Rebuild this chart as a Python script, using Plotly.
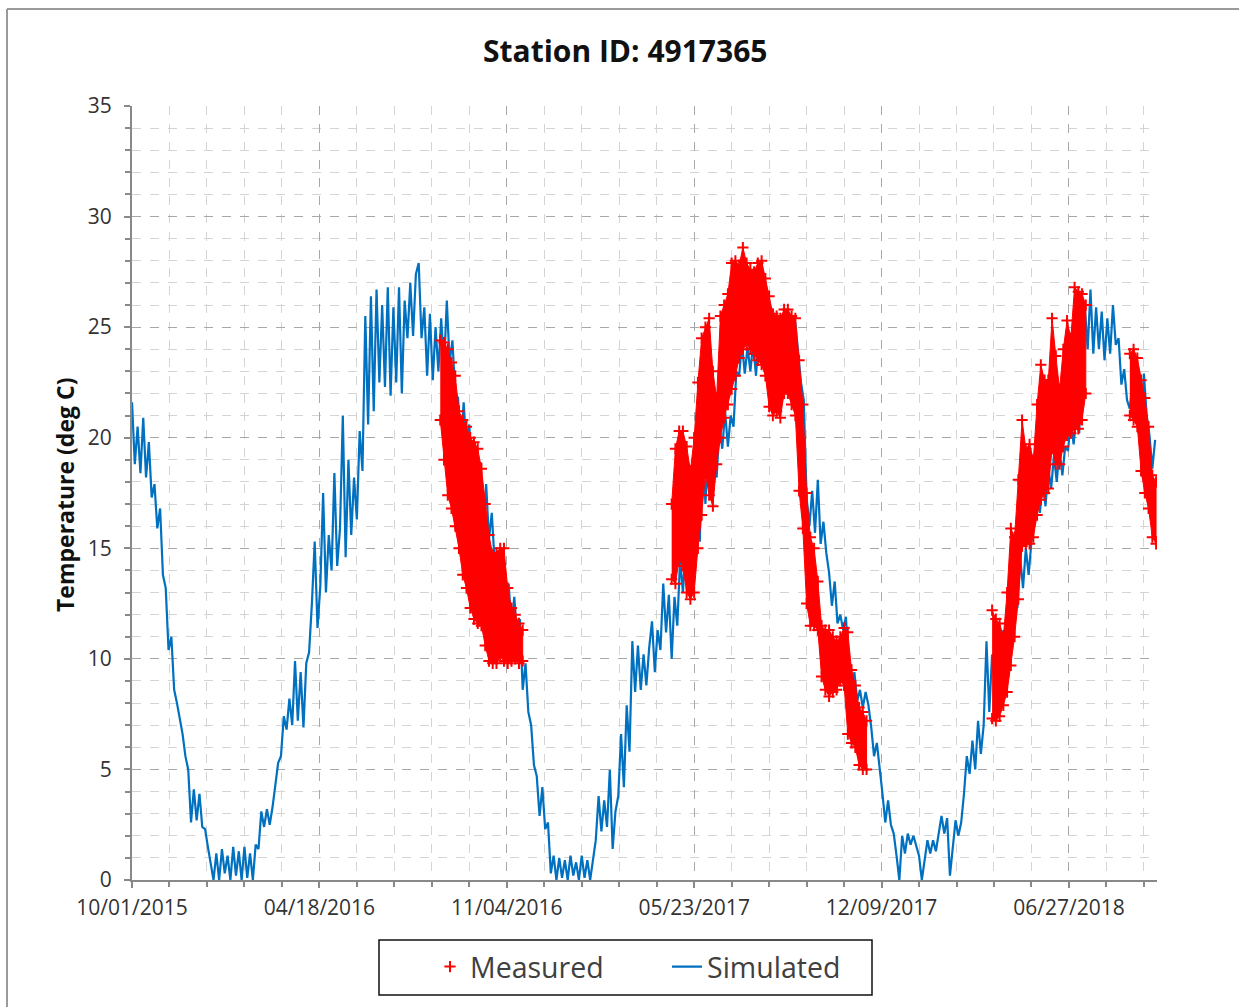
import plotly.graph_objects as go
import pandas as pd

# ---------------- data ----------------
sim_start = "2015-10-01"
sim_step_days = 3
simulated = [
    21.6, 18.8, 20.5, 18.4, 20.9, 18.2, 19.8, 17.3, 17.9, 15.9,
    16.8, 13.8, 13.2, 10.4, 11.0, 8.6, 8.0, 7.3, 6.6, 5.6,
    5.0, 2.6, 4.1, 2.7, 3.9, 2.4, 2.3, 1.5, 0.7, 0.0,
    1.2, 0.0, 1.4, 0.3, 1.1, 0.0, 1.5, 0.2, 1.3, 0.0,
    1.5, 0.1, 1.2, 0.0, 1.6, 1.4, 3.1, 2.4, 3.2, 2.5,
    3.3, 4.4, 5.3, 5.6, 7.4, 6.8, 8.2, 7.0, 9.9, 7.2,
    9.4, 6.9, 9.8, 10.3, 12.5, 15.3, 11.4, 13.3, 17.5, 13.0,
    15.6, 14.0, 18.4, 14.2, 15.9, 21.0, 14.6, 19.0, 15.6, 18.2,
    16.3, 20.3, 18.5, 25.5, 20.6, 26.4, 21.2, 26.7, 22.5, 26.0,
    22.3, 26.8, 21.9, 25.9, 22.5, 26.8, 22.0, 26.2, 24.5, 27.0,
    24.6, 27.4, 27.9, 24.5, 25.9, 22.8, 25.6, 22.6, 25.0, 23.0,
    25.4, 23.2, 26.2, 23.4, 24.4, 22.0, 21.8, 19.6, 21.6, 19.5,
    20.6, 18.0, 19.8, 17.2, 18.9, 16.0, 17.9, 15.4, 16.6, 14.4,
    14.9, 12.7, 14.6, 12.6, 13.4, 11.4, 12.8, 11.0, 11.8, 8.6,
    9.8, 7.6, 7.0, 5.2, 4.7, 2.9, 4.2, 2.3, 2.6, 0.3,
    1.1, 0.0, 1.0, 0.1, 0.9, 0.0, 1.1, 0.2, 0.8, 0.0,
    1.1, 0.1, 0.9, 0.0, 1.0, 1.8, 3.8, 2.2, 3.6, 2.4,
    5.0, 1.4, 3.1, 3.8, 6.6, 4.2, 7.9, 5.8, 10.8, 8.5,
    10.6, 8.6, 10.2, 8.8, 10.5, 11.7, 9.4, 11.3, 10.4, 13.4,
    11.2, 12.9, 10.0, 12.8, 11.5, 14.5, 13.0, 15.2, 13.8, 15.8,
    14.4, 16.1, 15.3, 19.9, 17.0, 19.5, 17.2, 19.0, 18.2, 20.5,
    19.5, 21.2, 19.6, 21.0, 20.5, 23.0, 22.8, 24.3, 22.9, 24.1,
    23.0, 24.3, 22.8, 24.6, 24.0, 25.0, 24.2, 25.2, 25.8, 24.3,
    25.5, 24.0, 25.4, 24.2, 25.5, 24.0, 25.2, 23.8, 22.5, 21.7,
    17.3, 16.0, 17.6, 15.7, 18.1, 15.2, 16.2, 14.8, 13.9, 12.4,
    13.5, 11.6, 12.0, 11.3, 11.9, 9.5, 8.3, 9.4, 8.1, 8.6,
    7.8, 8.5, 7.9, 6.9, 5.6, 6.2, 5.1, 3.9, 2.6, 3.6,
    2.5, 2.1, 1.1, 0.0, 2.0, 1.2, 2.1, 1.6, 2.0, 1.6,
    1.1, 0.0, 1.0, 1.8, 1.2, 1.8, 1.3, 2.2, 2.9, 2.1,
    2.8, 0.2, 1.6, 2.7, 2.0, 2.6, 3.9, 5.6, 4.8, 6.3,
    5.0, 7.2, 5.7, 7.0, 10.8, 7.6, 10.2, 8.8, 11.0, 9.4,
    11.3, 10.3, 12.4, 11.2, 13.6, 12.3, 14.6, 13.2, 15.0, 13.8,
    15.3, 16.1, 17.6, 16.6, 18.0, 16.9, 18.6, 17.7, 19.2, 18.0,
    19.5, 18.3, 19.6, 19.4, 20.8, 19.7, 21.0, 20.2, 23.7, 25.9,
    24.0, 26.7, 23.8, 25.9, 24.0, 25.7, 23.5, 25.4, 23.8, 26.0,
    24.2, 24.5, 22.4, 23.1, 21.7, 21.3, 22.6, 20.7, 22.0, 20.5,
    22.9, 21.0, 20.1, 18.6, 19.9,
]

meas_step_days = 4
# measured: upper / lower envelope of the sub-daily readings, per record period
meas1_start = "2016-08-25"
meas1_hi = [24.4, 24.3, 24.0, 23.4, 22.8, 21.2, 20.8, 20.5, 20.0, 19.8, 19.5, 18.6,
            17.0, 15.6, 14.7, 14.8, 15.0, 15.0, 13.2, 12.3, 12.0, 11.6, 11.3]
meas1_lo = [20.8, 19.0, 17.4, 16.8, 16.0, 15.0, 13.8, 13.2, 12.3, 11.8, 11.6, 11.5,
            10.6, 9.9, 9.8, 9.8, 10.1, 9.9, 9.8, 9.9, 10.0, 9.8, 9.9]

meas2_start = "2017-04-29"
meas2_hi = [17.0, 19.5, 20.3, 20.3, 19.6, 18.5, 20.0, 22.5, 24.5, 25.0, 25.4, 23.0,
            21.8, 25.5, 26.0, 26.5, 27.9, 28.0, 27.8, 28.6, 27.9, 27.6, 27.5, 27.9,
            28.0, 27.2, 26.4, 25.6, 25.5, 25.4, 25.8, 25.8, 25.5, 25.4, 23.5, 21.5,
            17.5, 15.5, 15.0, 13.5, 11.5, 11.3, 11.3, 11.0, 10.8, 11.0, 11.4, 11.2,
            9.5, 8.8, 7.8, 7.6, 7.2]
meas2_lo = [13.6, 13.4, 14.5, 14.2, 13.0, 12.7, 13.0, 15.0, 16.5, 18.4, 17.4, 16.9,
            18.8, 20.0, 20.9, 21.5, 22.2, 22.8, 23.6, 24.0, 24.2, 24.0, 23.8, 23.5,
            23.3, 22.8, 21.4, 21.0, 21.2, 20.9, 22.0, 22.0, 21.5, 21.0, 17.6, 15.9,
            12.5, 11.5, 11.5, 11.3, 9.2, 8.6, 8.3, 8.5, 8.6, 9.0, 8.8, 6.6,
            6.2, 6.0, 5.2, 5.0, 5.0]

meas3_start = "2018-04-06"
meas3_hi = [12.2, 11.8, 11.6, 11.0, 13.0, 15.9, 15.5, 18.1, 20.8, 19.5, 19.7, 19.0,
            21.5, 23.3, 22.6, 22.6, 25.4, 23.7, 22.2, 24.0, 25.3, 24.5, 26.8, 26.6,
            26.5, 26.0]
meas3_lo = [7.3, 7.2, 7.4, 7.9, 8.5, 9.7, 11.0, 12.7, 15.1, 15.2, 15.2, 15.5,
            16.5, 17.2, 17.5, 17.7, 19.5, 18.8, 18.8, 19.6, 20.1, 20.2, 20.4, 20.4,
            20.8, 22.0]

meas4_start = "2018-08-31"
meas4_hi = [23.8, 24.0, 23.6, 22.6, 21.8, 20.5, 18.3, 18.0]
meas4_lo = [21.0, 20.8, 20.5, 18.5, 17.5, 16.8, 15.5, 15.2]

x_range = ["2015-10-01", "2018-09-29"]
x_tick0 = "2015-10-01"
x_major_days = 200
x_minor_days = 40
title_text = "Station ID: 4917365"
y_title = "Temperature (deg C)"

# ---------------- figure ----------------
W, H = 1239, 1007
L, R, T, B = 132, 82, 106, 127
PW, PH = W - L - R, H - T - B


def px(xp):
    return (xp - L) / PW


def py(yp):
    return (H - B - yp) / PH


FONT = "Open Sans"
DAY_MS = 86400000
fig = go.Figure()

sim_dates = pd.date_range(sim_start, periods=len(simulated), freq=f"{sim_step_days}D")
fig.add_trace(go.Scatter(
    x=sim_dates, y=simulated, mode="lines", name="Simulated",
    line=dict(color="#0070C0", width=2.2), legendrank=2, hoverinfo="skip"))

all_x, all_y = [], []
for start, hi, lo in [(meas1_start, meas1_hi, meas1_lo), (meas2_start, meas2_hi, meas2_lo),
                      (meas3_start, meas3_hi, meas3_lo), (meas4_start, meas4_hi, meas4_lo)]:
    d = list(pd.date_range(start, periods=len(hi), freq=f"{meas_step_days}D"))
    fig.add_trace(go.Scatter(
        x=d + d[::-1], y=hi + lo[::-1], mode="lines", fill="toself",
        fillcolor="#FF0000", line=dict(color="#FF0000", width=1),
        showlegend=False, hoverinfo="skip"))
    all_x += d + d
    all_y += hi + lo

fig.add_trace(go.Scatter(
    x=all_x, y=all_y, mode="markers", name="Measured",
    marker=dict(symbol="cross-thin", size=8, color="#FF0000",
                line=dict(color="#FF0000", width=2)),
    legendrank=1, hoverinfo="skip"))

axis_common = dict(
    showline=True, linecolor="#898989", linewidth=2,
    ticks="outside", ticklen=6, tickwidth=2, tickcolor="#898989",
    showgrid=True, gridcolor="#a8a8a8", griddash="dash", gridwidth=1,
    zeroline=False, tickfont=dict(family=FONT, size=21, color="#333333"),
)

fig.update_layout(
    width=W, height=H,
    margin=dict(l=L, r=R, t=T, b=B, pad=0),
    paper_bgcolor="white", plot_bgcolor="white",
    showlegend=True,
    xaxis=dict(
        type="date", range=x_range, tick0=x_tick0, dtick=x_major_days * DAY_MS,
        tickformat="%m/%d/%Y", ticklabelstandoff=2,
        minor=dict(tick0=x_tick0, dtick=x_minor_days * DAY_MS, showgrid=True,
                   gridcolor="#d4d4d4", griddash="dash", gridwidth=1,
                   ticks="outside", ticklen=5, tickwidth=1.5, tickcolor="#898989"),
        **axis_common),
    yaxis=dict(
        range=[0, 35], tick0=0, dtick=5, ticklabelstandoff=8,
        minor=dict(tick0=0, dtick=1, showgrid=True,
                   gridcolor="#d4d4d4", griddash="dash", gridwidth=1,
                   ticks="outside", ticklen=5, tickwidth=1.5, tickcolor="#898989"),
        **axis_common),
    legend=dict(
        orientation="h", x=px(430), xanchor="left", y=py(967), yanchor="middle",
        font=dict(family=FONT, size=28.5, color="#404040"),
        bgcolor="rgba(0,0,0,0)", borderwidth=0, entrywidth=192,
        itemclick=False, itemdoubleclick=False),
    hovermode=False,
    annotations=[
        dict(text=f"<b>{title_text}</b>", x=px(625), y=py(50), xref="paper", yref="paper",
             xanchor="center", yanchor="middle", showarrow=False,
             font=dict(family=FONT, size=30, color="#111111")),
        dict(text=f"<b>{y_title}</b>", x=px(65), y=py(495), xref="paper", yref="paper",
             xanchor="center", yanchor="middle", textangle=-90, showarrow=False,
             font=dict(family=FONT, size=23, color="#111111")),
    ],
    shapes=[
        dict(type="rect", xref="paper", yref="paper",
             x0=px(379), x1=px(872), y0=py(995), y1=py(940),
             line=dict(color="#111111", width=1.5)),
        dict(type="line", xref="paper", yref="paper",
             x0=px(7), x1=px(W + 5), y0=py(9), y1=py(9),
             line=dict(color="#9a9a9a", width=2)),
        dict(type="line", xref="paper", yref="paper",
             x0=px(7), x1=px(7), y0=py(9), y1=py(H + 5),
             line=dict(color="#9a9a9a", width=2)),
    ],
)

fig.write_html("out.html")
